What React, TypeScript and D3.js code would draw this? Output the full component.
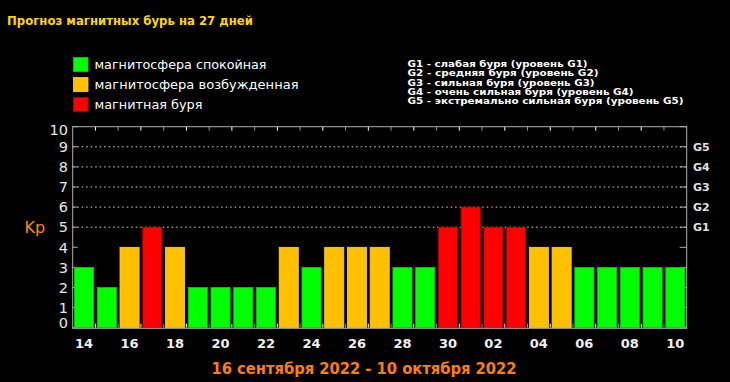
import React from "react";
import * as d3 from "d3";

const days = ["14","15","16","17","18","19","20","21","22","23","24","25","26","27","28","29","30","01","02","03","04","05","06","07","08","09","10"];
const kp = [3,2,4,5,4,2,2,2,2,4,3,4,4,4,3,3,5,6,5,5,4,4,3,3,3,3,3];
const yTicks = [0,1,2,3,4,5,6,7,8,9,10];
const gridValues = [5,6,7,8,9];
const gLabels = ["G1","G2","G3","G4","G5"];
const legendItems = ["магнитосфера спокойная","магнитосфера возбужденная","магнитная буря"];
const gLegend = [
  "G1 - слабая буря (уровень G1)",
  "G2 - средняя буря (уровень G2)",
  "G3 - сильная буря (уровень G3)",
  "G4 - очень сильная буря (уровень G4)",
  "G5 - экстремально сильная буря (уровень G5)",
];
const title = "Прогноз магнитных бурь на 27 дней";
const dateRange = "16 сентября 2022 - 10 октября 2022";

const COLORS = ["#00ff00", "#ffc000", "#ff0000"];
const STROKES = ["#00d000", "#ffd040", "#b00000"];
const level = (v: number) => (v >= 5 ? 2 : v >= 4 ? 1 : 0);

export default function App() {
  const W = 730, H = 382;
  const left = 72.7, right = 686.7, top = 126.7, bottom = 327.7;
  const x = d3.scaleBand<number>().domain(d3.range(days.length)).range([left, right]).paddingInner(0.16).paddingOuter(0.08);
  const y = d3.scaleLinear().domain([0, 10]).range([bottom, top]);
  const step = x.step();
  const boundaries = d3.range(1, days.length);
  const font = "DejaVu Sans, Verdana, sans-serif";
  const axisColor = "#b0b0b0";
  const gWidths = [180, 191, 187, 226, 276];

  return (
    <svg width={W} height={H} style={{ position: "absolute", left: 0, top: 0, background: "#000" }} fontFamily={font}>
      <rect x={0} y={0} width={W} height={H} fill="#000" />
      <text x={7} y={24.5} fill="#ffd700" fontWeight="bold" fontSize={12.5} textLength={246} lengthAdjust="spacingAndGlyphs">{title}</text>

      {legendItems.map((t, i) => (
        <g key={t}>
          <rect x={73.5} y={57.5 + i * 20} width={14.5} height={14} fill={COLORS[i]} stroke={STROKES[i]} strokeWidth={0.8} />
          <text x={94.5} y={69 + i * 20} fill="#fff" fontSize={13} textLength={i === 0 ? 172 : i === 1 ? 204 : 108} lengthAdjust="spacingAndGlyphs">{t}</text>
        </g>
      ))}

      {gLegend.map((t, i) => (
        <text key={t} x={407.5} y={66.8 + i * 9.4} fill="#fff" fontSize={9.4} fontWeight="bold" textLength={gWidths[i]} lengthAdjust="spacingAndGlyphs">{t}</text>
      ))}

      {/* gridlines */}
      {gridValues.map((v) => (
        <line key={v} x1={left} x2={right} y1={y(v)} y2={y(v)} stroke="#d8d8d8" strokeWidth={1} strokeDasharray="1.5,3" />
      ))}

      {/* y ticks */}
      {yTicks.map((v) => (
        <g key={v}>
          <line x1={left} x2={left + 5} y1={y(v)} y2={y(v)} stroke={axisColor} />
          <line x1={right - 7} x2={right} y1={y(v)} y2={y(v)} stroke={axisColor} />
        </g>
      ))}

      {/* x ticks top and bottom */}
      {boundaries.map((i) => {
        const bx = (x(i) as number) - step * 0.08;
        const c = i % 2 === 1 ? "#ffffff" : "#909090";
        return (
          <g key={i}>
            <line x1={bx} x2={bx} y1={top} y2={top + 4} stroke={c} />
            <line x1={bx} x2={bx} y1={bottom} y2={bottom - 4} stroke={c} />
          </g>
        );
      })}

      {/* bars */}
      {kp.map((v, i) => (
        <rect key={i} x={x(i)} y={y(v)} width={x.bandwidth()} height={bottom - y(v)} fill={COLORS[level(v)]} stroke={STROKES[level(v)]} strokeWidth={0.8} />
      ))}

      {/* frame */}
      <rect x={left} y={top} width={right - left} height={bottom - top + 0.6} fill="none" stroke={axisColor} strokeWidth={1} />

      {/* y labels */}
      {yTicks.map((v) => {
        let cy = y(v);
        if (v === 0) cy = bottom - 5;
        if (v === 10) cy = top + 3.3;
        return (
          <text key={v} x={68} y={cy} dy="0.36em" textAnchor="end" fill="#e8e8e8" fontSize={14.5}>{v}</text>
        );
      })}

      {/* G labels on right */}
      {gridValues.map((v, i) => (
        <text key={v} x={693} y={y(v)} dy="0.36em" fill="#e0e0e0" fontSize={11} fontWeight="bold">{gLabels[i]}</text>
      ))}

      <text x={24.5} y={233.3} fill="#ff8c00" fontSize={16}>Kp</text>

      {/* x labels */}
      {days.map((d, i) => i % 2 === 0 ? (
        <text key={d + i} x={(x(i) as number) + x.bandwidth() / 2} y={348} textAnchor="middle" fill="#f0f0f0" fontSize={13} fontWeight="bold">{d}</text>
      ) : null)}

      <text x={211.5} y={373.5} fill="#ff8000" fontSize={15.5} fontWeight="bold" textLength={305} lengthAdjust="spacingAndGlyphs">{dateRange}</text>
    </svg>
  );
}
